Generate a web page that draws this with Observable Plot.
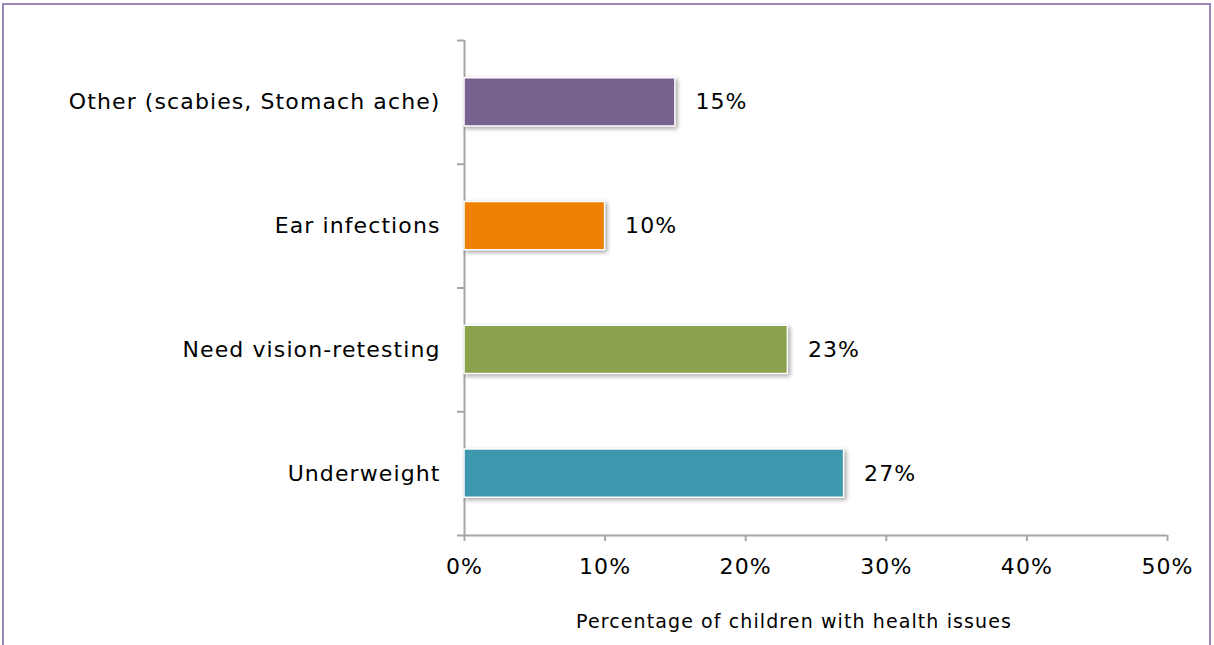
<!DOCTYPE html>
<html>
<head>
<meta charset="utf-8">
<script src="https://cdn.jsdelivr.net/npm/d3@7"></script>
<script src="https://cdn.jsdelivr.net/npm/@observablehq/plot@0.6"></script>
<style>
  html, body { margin: 0; padding: 0; background: #fff; }
  #wrap { position: relative; width: 1214px; height: 645px; overflow: hidden; }
  #frame { position: absolute; left: 2px; top: 3px; width: 1209px; height: 700px; border: 2px solid #9c88bb; box-sizing: border-box; pointer-events: none; }
  svg { font-family: "DejaVu Sans", Verdana, sans-serif; }
  svg text { letter-spacing: 1.1px; }
  .bars rect { filter: drop-shadow(2px 2px 2px rgba(0,0,0,0.35)); }
</style>
</head>
<body>
<div id="wrap"><div id="frame"></div></div>
<script>
// Categories listed bottom to top
const categories = ["Underweight", "Need vision-retesting", "Ear infections", "Other (scabies, Stomach ache)"];
const values = [27, 23, 10, 15];
const colors = ["#3d97ad", "#8aa24b", "#ee8106", "#77618e"];
const xTicks = [0, 10, 20, 30, 40, 50];
const axisTitle = "Percentage of children with health issues";

const data = categories.map((c, i) => ({category: c, value: values[i], idx: i, color: colors[i]}));
const edges = d3.range(categories.length + 1);
const centers = categories.map((c, i) => i + 0.5);
const barHalf = 0.195;

const chart = Plot.plot({
  width: 1214,
  height: 645,
  marginLeft: 464,
  marginRight: 47,
  marginTop: 40,
  marginBottom: 110,
  style: {fontFamily: "DejaVu Sans, Verdana, sans-serif", background: "transparent", overflow: "visible"},
  x: {domain: [0, 50]},
  y: {domain: [0, categories.length]},
  marks: [
    // y axis boundary ticks
    Plot.axisY({ticks: edges, tickSize: 7, tickFormat: () => "", stroke: "#a6a6a6", strokeWidth: 2, strokeOpacity: 1}),
    // y category labels
    Plot.axisY({ticks: centers, tickSize: 0, tickPadding: 24, tickFormat: (d) => categories[Math.floor(d)], fontSize: 22, fill: "#000", label: null}),
    // x axis
    Plot.axisX({ticks: xTicks, tickSize: 6, tickPadding: 17, tickFormat: (d) => d + "%", fontSize: 22, stroke: "#a6a6a6", strokeWidth: 2, strokeOpacity: 1, fill: "#000", label: null}),
    Plot.ruleY([0], {stroke: "#a6a6a6", strokeWidth: 2}),
    Plot.ruleX([0], {stroke: "#a6a6a6", strokeWidth: 2}),
    Plot.rectX(data, {x1: 0, x2: "value", y1: (d) => d.idx + 0.5 - barHalf, y2: (d) => d.idx + 0.5 + barHalf, fill: "color", stroke: "white", strokeWidth: 1.5, className: "bars"}),
    Plot.text(data, {x: "value", y: (d) => d.idx + 0.5, text: (d) => d.value + "%", textAnchor: "start", dx: 20, fontSize: 22, fill: "#000"}),
    Plot.text([axisTitle], {frameAnchor: "bottom", dy: 92, dx: -22, fontSize: 19, fill: "#000"})
  ]
});
document.getElementById("wrap").appendChild(chart);
</script>
</body>
</html>
